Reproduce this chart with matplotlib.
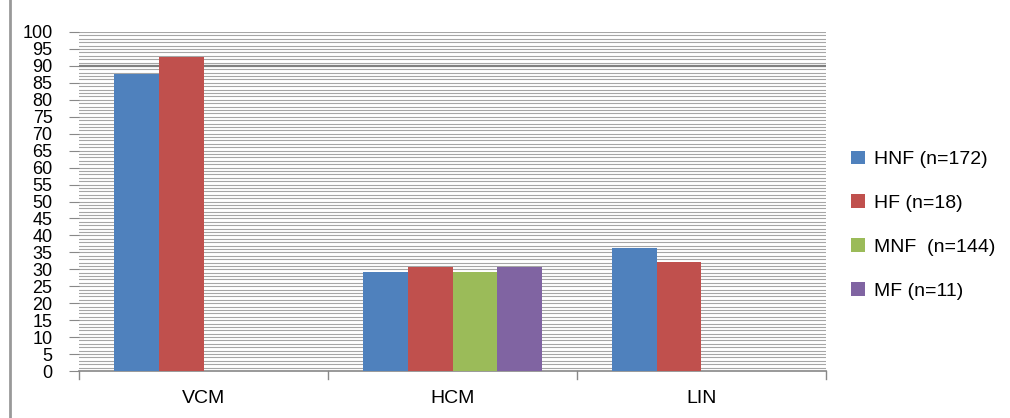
import matplotlib
matplotlib.use("Agg")
import matplotlib.pyplot as plt
import numpy as np
from matplotlib.lines import Line2D

categories = ["VCM", "HCM", "LIN"]
series = ["HNF (n=172)", "HF (n=18)", "MNF  (n=144)", "MF (n=11)"]
values = [
    [87.5, 29.1, 36.3],
    [92.5, 30.7, 32.2],
    [None, 29.1, None],
    [None, 30.7, None],
]
colors = ["#4f81bd", "#c0504d", "#9bbb59", "#8064a2"]
yticks = list(range(0, 101, 5))

font = ["Liberation Sans Narrow", "Liberation Sans", "DejaVu Sans"]
plt.rcParams['font.family'] = font

fig = plt.figure(figsize=(10.1, 4.18), dpi=100)
ax = fig.add_axes([79/1010, 1-371/418, (826-79)/1010, (371-32)/418])

nser = len(series)
bw = 0.18
x = np.arange(len(categories))
for i, (name, vals, c) in enumerate(zip(series, values, colors)):
    xs = [xi + (i - (nser-1)/2)*bw for xi, v in zip(x, vals) if v is not None]
    hs = [v for v in vals if v is not None]
    ax.bar(xs, hs, width=bw, color=c, label=name, zorder=3, linewidth=0)

ax.set_xlim(-0.5, len(categories)-0.5)
ax.set_ylim(0, 100)
for v in range(1, 101):
    if v == 90:
        ax.axhline(v, color="#7f7f7f", lw=1.6, zorder=1)
    else:
        ax.axhline(v, color="#a6a6a6", lw=0.8, zorder=1)

ax.set_yticks(yticks)
ax.set_yticklabels([str(t) for t in yticks], fontsize=13)
ax.set_xticks(x)
ax.set_xticklabels(categories, fontsize=14)
ax.tick_params(axis='x', length=0, pad=14)
ax.tick_params(axis='y', length=7, color="#888888", pad=12)
for b in [-0.5, 0.5, 1.5, 2.5]:
    ax.plot([b, b], [0, -0.025], transform=ax.get_xaxis_transform(), color="#888888", lw=1, clip_on=False)

for s in ["top", "right", "left"]:
    ax.spines[s].set_visible(False)
ax.spines["bottom"].set_color("#888888")
ax.spines["bottom"].set_linewidth(1.2)

leg = ax.legend(loc="center left", bbox_to_anchor=(1.01, 0.43), frameon=False,
                fontsize=14, handlelength=0.7, handleheight=0.7,
                labelspacing=1.35, handletextpad=0.5)

fig.add_artist(Line2D([10/1010, 10/1010], [0, 1], color="#999999", lw=2))

fig.savefig("out.png", dpi=100)
